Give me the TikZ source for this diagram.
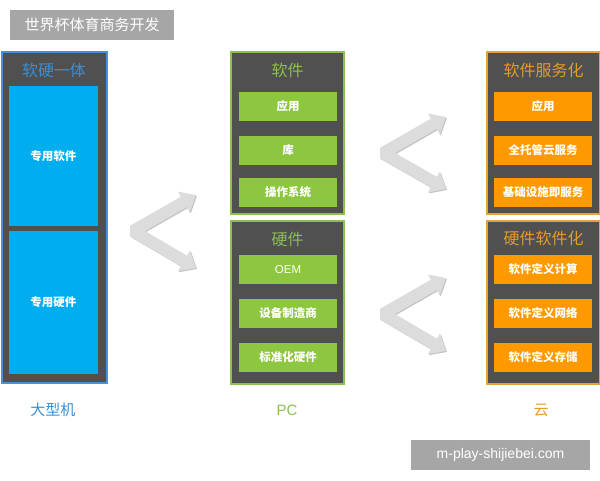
\documentclass[tikz,border=0pt]{standalone}
\usepackage{fontspec}
\setmainfont{Noto Sans CJK SC}
\newfontfamily\latinfont{Liberation Sans}
\usetikzlibrary{arrows.meta}
\definecolor{darkbg}{HTML}{505050}
\definecolor{tagbg}{HTML}{A6A6A6}
\definecolor{bluebd}{HTML}{4A90D9}
\definecolor{bluetx}{HTML}{3A8ED4}
\definecolor{bluein}{HTML}{00AEEF}
\definecolor{greenbd}{HTML}{8CC152}
\definecolor{greentx}{HTML}{8DBE55}
\definecolor{greenin}{HTML}{8DC63F}
\definecolor{orangebd}{HTML}{E8A23A}
\definecolor{orangetx}{HTML}{E39B2F}
\definecolor{orangein}{HTML}{FF9900}
\definecolor{arrowgray}{HTML}{DCDCDC}
\definecolor{arrowshadow}{HTML}{C4C4C4}
\tikzset{
  outerbox/.style={draw=#1, line width=2pt, fill=darkbg, inner sep=0pt},
  innerbox/.style={fill=#1, inner sep=0pt, text=white, font=\bfseries\fontsize{11.5}{13}\selectfont},
  boxtitle/.style={text=#1, font=\fontsize{16}{18}\selectfont, inner sep=0pt},
  collabel/.style={text=#1, font=\fontsize{15}{17}\selectfont, inner sep=0pt},
  tagbox/.style={fill=tagbg, text=white, inner sep=0pt},
  chevron/.style={draw=#1, line width=12pt, line join=bevel,
    {Triangle[width=23pt,length=14pt]}-{Triangle[width=23pt,length=14pt]}}
}
\begin{document}
\begin{tikzpicture}[x=1pt,y=-1pt]
\useasboundingbox (0,0) rectangle (600,480);
% tags
\node[tagbox, minimum width=164pt, minimum height=30pt, font=\fontsize{15}{17}\selectfont] (title) at (92,25) {世界杯体育商务开发};
\node[tagbox, minimum width=179pt, minimum height=30pt, font=\latinfont\fontsize{14}{16}\selectfont] (wm) at (500.5,455) {m-play-shijiebei.com};
% left column
\node[outerbox=bluebd, minimum width=105pt, minimum height=331pt] (mainframe) at (54.5,217.5) {};
\node[boxtitle=bluetx] (mftitle) at (54,70) {软硬一体};
\node[innerbox=bluein, minimum width=89pt, minimum height=140pt] (sw1) at (53.5,156) {专用软件};
\node[innerbox=bluein, minimum width=89pt, minimum height=143pt] (hw1) at (53.5,302.5) {专用硬件};
\node[collabel=bluetx] (l1) at (53,410) {大型机};
% middle column
\node[outerbox=greenbd, minimum width=113pt, minimum height=162pt] (pcsw) at (287.5,133) {};
\node[boxtitle=greentx] (pcswt) at (287.5,70) {软件};
\node[innerbox=greenin, minimum width=98pt, minimum height=29pt] (p1) at (288,106.5) {应用};
\node[innerbox=greenin, minimum width=98pt, minimum height=29pt] (p2) at (288,150) {库};
\node[innerbox=greenin, minimum width=98pt, minimum height=29pt] (p3) at (288,192) {操作系统};
\node[outerbox=greenbd, minimum width=113pt, minimum height=163pt] (pchw) at (287.5,302.5) {};
\node[boxtitle=greentx] (pchwt) at (287.5,239) {硬件};
\node[innerbox=greenin, minimum width=98pt, minimum height=29pt, font=\latinfont\fontsize{11.5}{13}\selectfont] (p4) at (288,269.5) {OEM};
\node[innerbox=greenin, minimum width=98pt, minimum height=29pt] (p5) at (288,313.5) {设备制造商};
\node[innerbox=greenin, minimum width=98pt, minimum height=29pt] (p6) at (288,357.5) {标准化硬件};
\node[collabel=greentx, font=\latinfont\fontsize{15}{17}\selectfont] (l2) at (287,410) {PC};
% right column
\node[outerbox=orangebd, minimum width=113pt, minimum height=162pt] (csw) at (543.5,133) {};
\node[boxtitle=orangetx] (cswt) at (543.5,70) {软件服务化};
\node[innerbox=orangein, minimum width=98pt, minimum height=29pt] (c1) at (543,106.5) {应用};
\node[innerbox=orangein, minimum width=98pt, minimum height=29pt] (c2) at (543,150.5) {全托管云服务};
\node[innerbox=orangein, minimum width=98pt, minimum height=29pt] (c3) at (543,192.5) {基础设施即服务};
\node[outerbox=orangebd, minimum width=113pt, minimum height=163pt] (chw) at (543.5,302.5) {};
\node[boxtitle=orangetx] (chwt) at (543.5,238) {硬件软件化};
\node[innerbox=orangein, minimum width=98pt, minimum height=29pt] (c4) at (543,269.5) {软件定义计算};
\node[innerbox=orangein, minimum width=98pt, minimum height=29pt] (c5) at (543,313) {软件定义网络};
\node[innerbox=orangein, minimum width=98pt, minimum height=29pt] (c6) at (543,357.5) {软件定义存储};
\node[collabel=orangetx] (l3) at (541,410) {云};
% chevron arrows
\coordinate (a1t) at (196,195); \coordinate (a1v) at (133,231); \coordinate (a1b) at (196,268);
\coordinate (a2t) at (446,117); \coordinate (a2v) at (383,153); \coordinate (a2b) at (446,189);
\coordinate (a3t) at (446,278); \coordinate (a3v) at (383,314); \coordinate (a3b) at (446,351);
\foreach \a in {a1,a2,a3}{
  \draw[chevron=arrowshadow, transform canvas={shift={(1pt,-1pt)}}] (\a t) -- (\a v) -- (\a b);
  \draw[chevron=arrowgray] (\a t) -- (\a v) -- (\a b);
}
\end{tikzpicture}
\end{document}
